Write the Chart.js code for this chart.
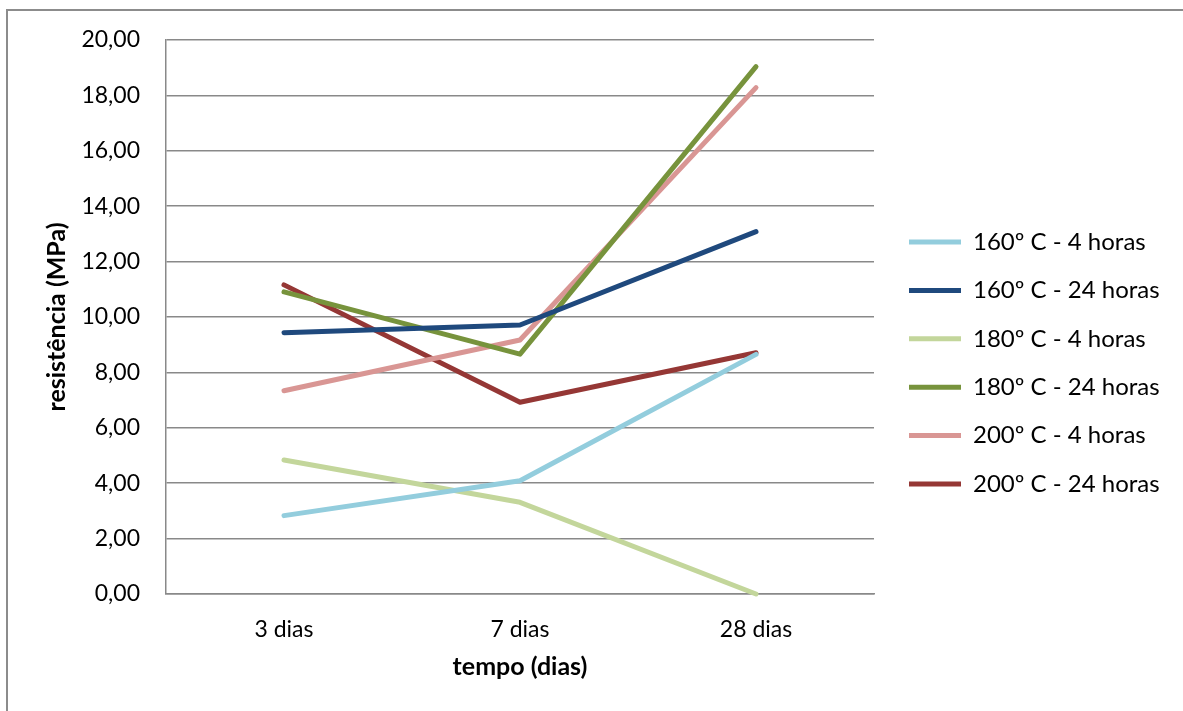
<!DOCTYPE html>
<html>
<head>
<meta charset="utf-8">
<script src="https://cdn.jsdelivr.net/npm/chart.js@4.4.1/dist/chart.umd.min.js"></script>
<style>
  html, body { margin: 0; padding: 0; background: #ffffff; }
  #wrap { width: 1183px; height: 711px; position: relative; }
</style>
</head>
<body>
<div id="wrap"><canvas id="c" width="1183" height="711"></canvas></div>
<script>
// ---- data ----
const categories = ['3 dias', '7 dias', '28 dias'];
const seriesLabels = ['160º C - 4 horas', '160º C - 24 horas', '180º C - 4 horas', '180º C - 24 horas', '200º C - 4 horas', '200º C - 24 horas'];
const s160_4h  = [2.83, 4.09, 8.65];
const s160_24h = [9.43, 9.71, 13.08];
const s180_4h  = [4.84, 3.31, 0.00];
const s180_24h = [10.91, 8.66, 19.04];
const s200_4h  = [7.34, 9.17, 18.28];
const s200_24h = [11.16, 6.92, 8.71];
const yTickLabels = ['0,00', '2,00', '4,00', '6,00', '8,00', '10,00', '12,00', '14,00', '16,00', '18,00', '20,00'];
const seriesColors = ['#93CDDD', '#1F497D', '#C3D69B', '#77933C', '#D99694', '#953735'];
const seriesValues = [s160_4h, s160_24h, s180_4h, s180_24h, s200_4h, s200_24h];

Chart.defaults.font.family = 'Lato';
Chart.defaults.color = '#000000';

const GRID = '#898989';
const LEGEND_LEFT = 884.6;

const frame = {
  id: 'frame',
  beforeDraw(chart) {
    const ctx = chart.ctx;
    ctx.save();
    ctx.strokeStyle = '#8c8c8c';
    ctx.lineWidth = 2;
    ctx.strokeRect(7, 10, 1400, 900);
    ctx.restore();
  }
};

const datasets = seriesLabels.map((lab, i) => ({
  label: lab,
  data: seriesValues[i],
  borderColor: seriesColors[i],
  backgroundColor: seriesColors[i],
  borderWidth: 5,
  borderCapStyle: 'round',
  borderJoinStyle: 'round',
  pointRadius: 0,
  pointHoverRadius: 0,
  tension: 0,
  clip: false
}));

const chart = new Chart(document.getElementById('c'), {
  type: 'line',
  data: { labels: categories, datasets: datasets },
  options: {
    responsive: false,
    animation: false,
    layout: { padding: { top: 40, bottom: 25, left: 0, right: 0 } },
    plugins: {
      tooltip: { enabled: false },
      legend: {
        position: 'right',
        align: 'center',
        maxWidth: 600,
        labels: {
          usePointStyle: true,
          pointStyle: 'line',
          pointStyleWidth: 52,
          padding: 24.4,
          color: '#000000',
          font: { size: 24, family: 'Lato' }
        }
      }
    },
    scales: {
      x: {
        offset: true,
        grid: { display: false, drawTicks: false },
        border: { display: true, color: GRID, width: 1.5 },
        ticks: { padding: 22, font: { size: 23 }, color: '#000' },
        title: {
          display: true,
          text: 'tempo (dias)',
          font: { size: 25, weight: 'bold', lineHeight: 38 / 25 },
          padding: 0,
          color: '#000'
        },
        afterFit(s) { s.height = 92; }
      },
      y: {
        min: 0,
        max: 20,
        ticks: {
          stepSize: 2,
          padding: 26,
          font: { size: 23 },
          color: '#000',
          callback: (v, i) => yTickLabels[i]
        },
        grid: { color: GRID, lineWidth: 1.5, drawTicks: false },
        border: { display: true, color: GRID, width: 1.5 },
        title: {
          display: true,
          text: 'resistência (MPa)',
          font: { size: 25, weight: 'bold' },
          padding: { top: 42, bottom: 0 },
          color: '#000'
        },
        afterFit(s) { s.width = 166; }
      },
      ySpacer: {
        type: 'linear',
        position: 'right',
        display: true,
        min: 0,
        max: 20,
        grid: { display: false, drawTicks: false },
        border: { display: false },
        ticks: { display: false },
        afterFit(s) { s.width = 10.6; }
      }
    }
  },
  plugins: [frame]
});

const lw = chart.legend.width;
chart.options.layout.padding.right = Math.max(0, 1183 - LEGEND_LEFT - lw);
chart.update('none');
</script>
</body>
</html>
